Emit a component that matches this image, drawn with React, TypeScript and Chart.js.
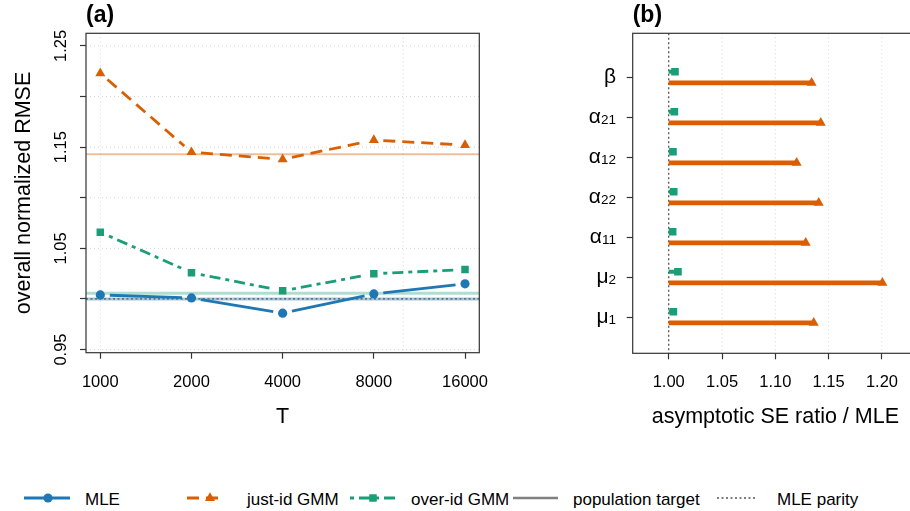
import React, { useEffect, useRef } from 'react';
import { Chart, registerables } from 'chart.js';

Chart.register(...registerables);

const FONT = "'Liberation Sans', Arial, Helvetica, sans-serif";

// ---------- Panel (a): overall normalized RMSE vs T ----------
const T_VALUES = [1000, 2000, 4000, 8000, 16000];
const MLE_RMSE = [1.004, 1.001, 0.986, 1.005, 1.015];
const JUST_ID_RMSE = [1.223, 1.145, 1.138, 1.157, 1.152];
const OVER_ID_RMSE = [1.066, 1.026, 1.008, 1.025, 1.029];
const TARGET_MLE = 1.0;
const TARGET_JUST_ID = 1.143;
const TARGET_OVER_ID = 1.0056;
const MLE_PARITY = 1.0;
const A_Y_TICKS = [0.95, 1.0, 1.05, 1.1, 1.15, 1.2, 1.25];
const A_Y_LABELS = [0.95, 1.05, 1.15, 1.25];
const A_X_GRID = [1000, 10000];
const A_X_MIN = 897;
const A_X_MAX = 17836;
const A_Y_MIN = 0.9469;
const A_Y_MAX = 1.2625;

// ---------- Panel (b): asymptotic SE ratio / MLE ----------
const PARAM_SYMBOLS = ['β', 'α', 'α', 'α', 'α', 'μ', 'μ'];
const PARAM_SUBSCRIPTS = ['', '21', '12', '22', '11', '2', '1'];
const JUST_ID_SE_RATIO = [1.134, 1.1426, 1.12, 1.1407, 1.1285, 1.2004, 1.136];
const OVER_ID_SE_RATIO = [1.0059, 1.0053, 1.004, 1.0047, 1.0037, 1.0087, 1.0044];
const B_X_TICKS = [1.0, 1.05, 1.1, 1.15, 1.2];
const B_X_MIN = 0.96625;
const B_X_MAX = 1.2338;
const B_Y_MIN = 0.1;
const B_Y_MAX = 8.1;
const B_OFFSET = 0.14;

const BLUE = '#1F78B4';
const ORANGE = '#D95F02';
const GREEN = '#1B9E77';
const GRID = '#d6d6d6';
const AXIS = '#333333';
const GRID_DASH = [1, 3];

const gapLinePlugin = {
  id: 'gapLines',
  beforeDatasetsDraw(chart: any) {
    const ctx = chart.ctx;
    chart.data.datasets.forEach((ds: any, i: number) => {
      if (!ds.gapLine) return;
      const pts = chart.getDatasetMeta(i).data;
      ctx.save();
      ctx.strokeStyle = ds.borderColor;
      ctx.lineWidth = ds.gapLine.width;
      ctx.lineCap = 'butt';
      for (let k = 0; k < pts.length - 1; k++) {
        const a = pts[k];
        const b = pts[k + 1];
        const dx = b.x - a.x;
        const dy = b.y - a.y;
        const L = Math.hypot(dx, dy);
        const g = ds.gapLine.gap;
        if (L <= 2 * g) continue;
        const ux = dx / L;
        const uy = dy / L;
        ctx.setLineDash(ds.gapLine.dash);
        ctx.lineDashOffset = 0;
        ctx.beginPath();
        ctx.moveTo(a.x + ux * g, a.y + uy * g);
        ctx.lineTo(b.x - ux * g, b.y - uy * g);
        ctx.stroke();
      }
      ctx.restore();
    });
  },
};

const refLinesA = {
  id: 'refLinesA',
  beforeDatasetsDraw(chart: any) {
    const { ctx, chartArea: ca, scales } = chart;
    const x = scales.x;
    const y = scales.y;
    ctx.save();
    ctx.strokeStyle = GRID;
    ctx.lineWidth = 1;
    ctx.setLineDash(GRID_DASH);
    A_Y_TICKS.forEach((v) => {
      const py = y.getPixelForValue(v);
      ctx.beginPath();
      ctx.moveTo(ca.left, py);
      ctx.lineTo(ca.right, py);
      ctx.stroke();
    });
    A_X_GRID.forEach((v) => {
      const px = x.getPixelForValue(v);
      ctx.beginPath();
      ctx.moveTo(px, ca.top);
      ctx.lineTo(px, ca.bottom);
      ctx.stroke();
    });
    const lines = [
      { v: TARGET_JUST_ID, color: 'rgba(217,95,2,0.4)', w: 2.2 },
      { v: TARGET_OVER_ID, color: 'rgba(27,158,119,0.35)', w: 3 },
      { v: TARGET_MLE, color: 'rgba(31,120,180,0.4)', w: 3 },
    ];
    lines.forEach((l) => {
      const py = y.getPixelForValue(l.v);
      ctx.strokeStyle = l.color;
      ctx.lineWidth = l.w;
      ctx.setLineDash([]);
      ctx.beginPath();
      ctx.moveTo(ca.left, py);
      ctx.lineTo(ca.right, py);
      ctx.stroke();
    });
    const pp = y.getPixelForValue(MLE_PARITY);
    ctx.strokeStyle = '#555555';
    ctx.lineWidth = 1.3;
    ctx.setLineDash([2, 2.5]);
    ctx.beginPath();
    ctx.moveTo(ca.left, pp);
    ctx.lineTo(ca.right, pp);
    ctx.stroke();
    ctx.restore();
  },
};

const textA = {
  id: 'textA',
  afterDraw(chart: any) {
    const { ctx, chartArea: ca, scales } = chart;
    const x = scales.x;
    const y = scales.y;
    ctx.save();
    ctx.setLineDash([]);
    ctx.strokeStyle = AXIS;
    ctx.lineWidth = 1.2;
    ctx.strokeRect(ca.left, ca.top, ca.right - ca.left, ca.bottom - ca.top);
    ctx.fillStyle = '#000';
    ctx.font = `16.5px ${FONT}`;
    ctx.textAlign = 'center';
    ctx.textBaseline = 'alphabetic';
    T_VALUES.forEach((t) => ctx.fillText(String(t), x.getPixelForValue(t), 387));
    A_Y_LABELS.forEach((v) => {
      ctx.save();
      ctx.translate(65.5, y.getPixelForValue(v));
      ctx.rotate(-Math.PI / 2);
      ctx.fillText(v.toFixed(2), 0, 0);
      ctx.restore();
    });
    ctx.font = `21.5px ${FONT}`;
    ctx.fillText('T', (ca.left + ca.right) / 2, 423);
    ctx.save();
    ctx.translate(30, (ca.top + ca.bottom) / 2);
    ctx.rotate(-Math.PI / 2);
    ctx.fillText('overall normalized RMSE', 0, 0);
    ctx.restore();
    ctx.font = `bold 23px ${FONT}`;
    ctx.textAlign = 'left';
    ctx.fillText('(a)', ca.left, 22);
    ctx.restore();
  },
};

const refLinesB = {
  id: 'refLinesB',
  beforeDatasetsDraw(chart: any) {
    const { ctx, chartArea: ca, scales } = chart;
    const x = scales.x;
    ctx.save();
    ctx.strokeStyle = GRID;
    ctx.lineWidth = 1;
    ctx.setLineDash(GRID_DASH);
    B_X_TICKS.forEach((v) => {
      if (v === MLE_PARITY) return;
      const px = x.getPixelForValue(v);
      ctx.beginPath();
      ctx.moveTo(px, ca.top);
      ctx.lineTo(px, ca.bottom);
      ctx.stroke();
    });
    const px = x.getPixelForValue(MLE_PARITY);
    ctx.strokeStyle = '#555555';
    ctx.lineWidth = 1.3;
    ctx.setLineDash([2, 2.5]);
    ctx.beginPath();
    ctx.moveTo(px, ca.top);
    ctx.lineTo(px, ca.bottom);
    ctx.stroke();
    ctx.restore();
  },
};

const textB = {
  id: 'textB',
  afterDraw(chart: any) {
    const { ctx, chartArea: ca, scales } = chart;
    const x = scales.x;
    const y = scales.y;
    ctx.save();
    ctx.setLineDash([]);
    ctx.strokeStyle = AXIS;
    ctx.lineWidth = 1.2;
    ctx.strokeRect(ca.left, ca.top, ca.right - ca.left, ca.bottom - ca.top);
    ctx.fillStyle = '#000';
    ctx.font = `16.5px ${FONT}`;
    ctx.textAlign = 'center';
    ctx.textBaseline = 'alphabetic';
    B_X_TICKS.forEach((v) => ctx.fillText(v.toFixed(2), x.getPixelForValue(v), 387));
    const n = PARAM_SYMBOLS.length;
    PARAM_SYMBOLS.forEach((sym, i) => {
      const py = y.getPixelForValue(n - i);
      const sub = PARAM_SUBSCRIPTS[i];
      ctx.font = `13.5px ${FONT}`;
      const sw = sub ? ctx.measureText(sub).width : 0;
      ctx.font = `21px ${FONT}`;
      const mw = ctx.measureText(sym).width;
      const right = 56;
      ctx.textAlign = 'left';
      ctx.fillText(sym, right - sw - mw, py + 6);
      if (sub) {
        ctx.font = `13.5px ${FONT}`;
        ctx.fillText(sub, right - sw, py + 6.8);
      }
    });
    ctx.textAlign = 'center';
    ctx.font = `21.5px ${FONT}`;
    ctx.fillText('asymptotic SE ratio / MLE', (ca.left + ca.right) / 2, 423);
    ctx.font = `bold 23px ${FONT}`;
    ctx.textAlign = 'left';
    ctx.fillText('(b)', ca.left, 22);
    ctx.restore();
  },
};

function LeftPanel() {
  const ref = useRef<HTMLCanvasElement>(null);
  useEffect(() => {
    if (!ref.current) return;
    const chart = new Chart(ref.current, {
      type: 'scatter',
      data: {
        datasets: [
          {
            label: 'just-id GMM',
            data: T_VALUES.map((t, i) => ({ x: t, y: JUST_ID_RMSE[i] })),
            backgroundColor: ORANGE,
            borderColor: ORANGE,
            pointStyle: 'triangle',
            pointRadius: 5.8,
            pointBorderWidth: 0,
            showLine: false,
            gapLine: { gap: 9.5, width: 2.8, dash: [12, 7] },
          } as any,
          {
            label: 'over-id GMM',
            data: T_VALUES.map((t, i) => ({ x: t, y: OVER_ID_RMSE[i] })),
            backgroundColor: GREEN,
            borderColor: GREEN,
            pointStyle: 'rect',
            pointRadius: 5.3,
            pointBorderWidth: 0,
            showLine: false,
            gapLine: { gap: 9.5, width: 2.8, dash: [4, 5, 11, 5] },
          } as any,
          {
            label: 'MLE',
            data: T_VALUES.map((t, i) => ({ x: t, y: MLE_RMSE[i] })),
            backgroundColor: BLUE,
            borderColor: BLUE,
            pointStyle: 'circle',
            pointRadius: 4.6,
            pointBorderWidth: 0,
            showLine: false,
            gapLine: { gap: 9.5, width: 2.8, dash: [] },
          } as any,
        ],
      },
      options: {
        animation: false,
        responsive: false,
        maintainAspectRatio: false,
        events: [],
        layout: { padding: { top: 33.3, right: 540 - 479.3, bottom: 0, left: 0 } },
        plugins: { legend: { display: false }, tooltip: { enabled: false } },
        scales: {
          x: {
            type: 'logarithmic',
            min: A_X_MIN,
            max: A_X_MAX,
            afterBuildTicks: (s: any) => {
              s.ticks = T_VALUES.map((v) => ({ value: v }));
            },
            afterFit: (s: any) => {
              s.height = 470 - 352.7;
            },
            ticks: { display: false },
            grid: {
              drawOnChartArea: false,
              color: AXIS,
              tickColor: AXIS,
              tickLength: 6,
              tickWidth: 1.2,
            },
            border: { display: false },
          } as any,
          y: {
            type: 'linear',
            min: A_Y_MIN,
            max: A_Y_MAX,
            afterBuildTicks: (s: any) => {
              s.ticks = A_Y_TICKS.map((v) => ({ value: v }));
            },
            afterFit: (s: any) => {
              s.width = 86;
            },
            ticks: { display: false },
            grid: {
              drawOnChartArea: false,
              color: AXIS,
              tickColor: AXIS,
              tickLength: 6,
              tickWidth: 1.2,
            },
            border: { display: false },
          } as any,
        },
      },
      plugins: [refLinesA, gapLinePlugin, textA],
    });
    return () => chart.destroy();
  }, []);
  return <canvas ref={ref} width={540} height={470} style={{ width: 540, height: 470, display: 'block' }} />;
}

function RightPanel() {
  const ref = useRef<HTMLCanvasElement>(null);
  useEffect(() => {
    if (!ref.current) return;
    const n = PARAM_SYMBOLS.length;
    const yTicks = PARAM_SYMBOLS.map((_, i) => n - i);
    const segData = (vals: number[], off: number) =>
      vals.flatMap((v, i) => [
        { x: MLE_PARITY, y: n - i + off },
        { x: v, y: n - i + off },
        { x: v, y: null },
      ]);
    const chart = new Chart(ref.current, {
      type: 'scatter',
      data: {
        datasets: [
          {
            label: 'just-id GMM',
            data: segData(JUST_ID_SE_RATIO, -B_OFFSET),
            showLine: true,
            spanGaps: false,
            borderColor: ORANGE,
            backgroundColor: ORANGE,
            borderWidth: 4.8,
            borderCapStyle: 'butt',
            pointStyle: 'triangle',
            pointRadius: (c: any) => (c.index % 3 === 1 ? 5.8 : 0),
            pointBorderWidth: 0,
          } as any,
          {
            label: 'over-id GMM',
            data: segData(OVER_ID_SE_RATIO, B_OFFSET),
            showLine: true,
            spanGaps: false,
            borderColor: GREEN,
            backgroundColor: GREEN,
            borderWidth: 4,
            borderCapStyle: 'butt',
            pointStyle: 'rect',
            pointRadius: (c: any) => (c.index % 3 === 1 ? 5.4 : 0),
            pointBorderWidth: 0,
          } as any,
        ],
      },
      options: {
        animation: false,
        responsive: false,
        maintainAspectRatio: false,
        events: [],
        layout: { padding: { top: 33.3, right: 12, bottom: 0, left: 0 } },
        plugins: { legend: { display: false }, tooltip: { enabled: false } },
        scales: {
          x: {
            type: 'linear',
            min: B_X_MIN,
            max: B_X_MAX,
            afterBuildTicks: (s: any) => {
              s.ticks = B_X_TICKS.map((v) => ({ value: v }));
            },
            afterFit: (s: any) => {
              s.height = 470 - 353.3;
            },
            ticks: { display: false },
            grid: {
              drawOnChartArea: false,
              color: AXIS,
              tickColor: AXIS,
              tickLength: 6,
              tickWidth: 1.2,
            },
            border: { display: false },
          } as any,
          y: {
            type: 'linear',
            min: B_Y_MIN,
            max: B_Y_MAX,
            afterBuildTicks: (s: any) => {
              s.ticks = yTicks.map((v) => ({ value: v }));
            },
            afterFit: (s: any) => {
              s.width = 72.7;
            },
            ticks: { display: false },
            grid: {
              drawOnChartArea: false,
              color: AXIS,
              tickColor: AXIS,
              tickLength: 6,
              tickWidth: 1.2,
            },
            border: { display: false },
          } as any,
        },
      },
      plugins: [refLinesB, textB],
    });
    return () => chart.destroy();
  }, []);
  return <canvas ref={ref} width={370} height={470} style={{ width: 370, height: 470, display: 'block' }} />;
}

function Legend() {
  const cy = 20;
  const base = 27;
  const tri = (cx: number, r: number) =>
    `${cx},${cy - r} ${cx - r * 0.866},${cy + r * 0.5} ${cx + r * 0.866},${cy + r * 0.5}`;
  const textStyle = { fontFamily: FONT, fontSize: 17, fill: '#000' } as any;
  return (
    <svg width={910} height={40} style={{ position: 'absolute', left: 0, top: 478 }}>
      <line x1={24} x2={70} y1={cy} y2={cy} stroke={BLUE} strokeWidth={2.8} />
      <circle cx={48} cy={cy} r={4.6} fill={BLUE} />
      <text x={85} y={base} style={textStyle}>MLE</text>

      <line x1={187} x2={222} y1={cy} y2={cy} stroke={ORANGE} strokeWidth={2.8} strokeDasharray="12 7" />
      <polygon points={tri(210, 5.8)} fill={ORANGE} />
      <text x={247} y={base} style={textStyle}>just-id GMM</text>

      <line x1={350} x2={397} y1={cy} y2={cy} stroke={GREEN} strokeWidth={2.8} strokeDasharray="4 5 11 5" />
      <rect x={373 - 3.75} y={cy - 3.75} width={7.5} height={7.5} fill={GREEN} />
      <text x={411} y={base} style={textStyle}>over-id GMM</text>

      <line x1={513} x2={558} y1={cy} y2={cy} stroke="#808080" strokeWidth={2.5} />
      <text x={573} y={base} style={textStyle}>population target</text>

      <line x1={717} x2={757} y1={cy} y2={cy} stroke="#555555" strokeWidth={1.3} strokeDasharray="2 2.5" />
      <text x={777} y={base} style={textStyle}>MLE parity</text>
    </svg>
  );
}

export default function App() {
  return (
    <div
      style={{
        position: 'fixed',
        left: 0,
        top: 0,
        width: 910,
        height: 511,
        overflow: 'hidden',
        background: '#ffffff',
      }}
    >
      <div style={{ position: 'absolute', left: 0, top: 0 }}>
        <LeftPanel />
      </div>
      <div style={{ position: 'absolute', left: 560, top: 0 }}>
        <RightPanel />
      </div>
      <Legend />
    </div>
  );
}
